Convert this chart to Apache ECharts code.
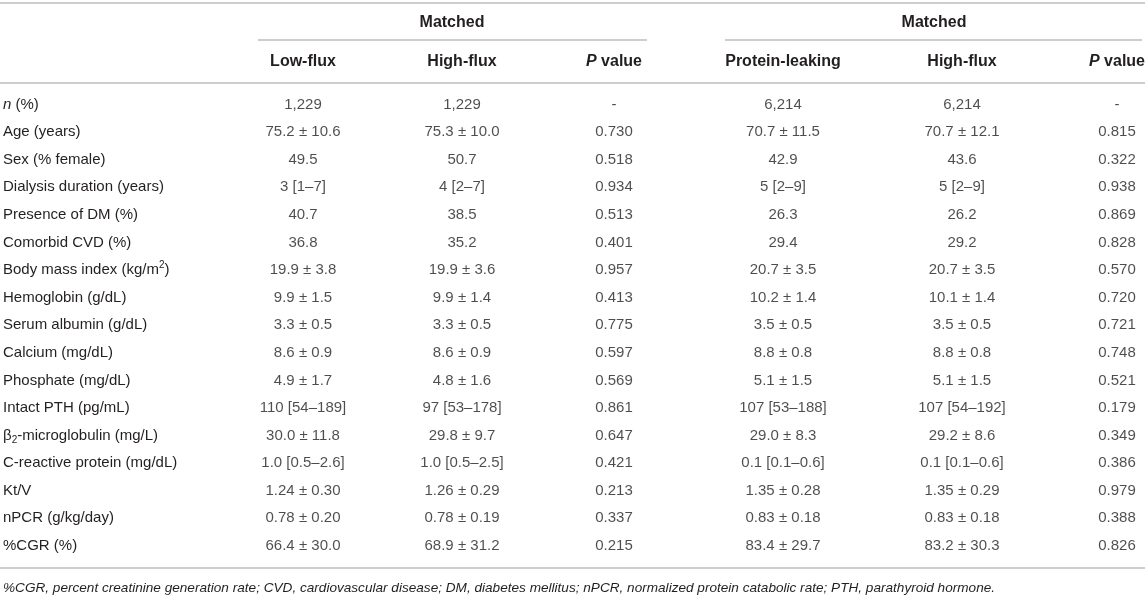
<!DOCTYPE html>
<html>
<head>
<meta charset="utf-8">
<script src="https://cdn.jsdelivr.net/npm/echarts@6/dist/echarts.min.js"></script>
<style>
  html, body { margin: 0; padding: 0; background: #fff; }
  #main { width: 1145px; height: 596px; }
</style>
</head>
<body>
<div id="main"></div>
<script>
// table content
const rowLabels = [
  'n (%)', 'Age (years)', 'Sex (% female)', 'Dialysis duration (years)',
  'Presence of DM (%)', 'Comorbid CVD (%)', 'Body mass index (kg/m²)',
  'Hemoglobin (g/dL)', 'Serum albumin (g/dL)', 'Calcium (mg/dL)',
  'Phosphate (mg/dL)', 'Intact PTH (pg/mL)', 'β₂-microglobulin (mg/L)',
  'C-reactive protein (mg/dL)', 'Kt/V', 'nPCR (g/kg/day)', '%CGR (%)',
];
const groupTitles = ['Matched', 'Matched'];
const columnTitles = ['Low-flux', 'High-flux', 'P value', 'Protein-leaking', 'High-flux', 'P value'];
const lowFlux = ['1,229', '75.2 ± 10.6', '49.5', '3 [1–7]', '40.7', '36.8', '19.9 ± 3.8', '9.9 ± 1.5',
  '3.3 ± 0.5', '8.6 ± 0.9', '4.9 ± 1.7', '110 [54–189]', '30.0 ± 11.8', '1.0 [0.5–2.6]',
  '1.24 ± 0.30', '0.78 ± 0.20', '66.4 ± 30.0'];
const highFlux1 = ['1,229', '75.3 ± 10.0', '50.7', '4 [2–7]', '38.5', '35.2', '19.9 ± 3.6', '9.9 ± 1.4',
  '3.3 ± 0.5', '8.6 ± 0.9', '4.8 ± 1.6', '97 [53–178]', '29.8 ± 9.7', '1.0 [0.5–2.5]',
  '1.26 ± 0.29', '0.78 ± 0.19', '68.9 ± 31.2'];
const pValue1 = ['-', '0.730', '0.518', '0.934', '0.513', '0.401', '0.957', '0.413', '0.775',
  '0.597', '0.569', '0.861', '0.647', '0.421', '0.213', '0.337', '0.215'];
const proteinLeaking = ['6,214', '70.7 ± 11.5', '42.9', '5 [2–9]', '26.3', '29.4', '20.7 ± 3.5', '10.2 ± 1.4',
  '3.5 ± 0.5', '8.8 ± 0.8', '5.1 ± 1.5', '107 [53–188]', '29.0 ± 8.3', '0.1 [0.1–0.6]',
  '1.35 ± 0.28', '0.83 ± 0.18', '83.4 ± 29.7'];
const highFlux2 = ['6,214', '70.7 ± 12.1', '43.6', '5 [2–9]', '26.2', '29.2', '20.7 ± 3.5', '10.1 ± 1.4',
  '3.5 ± 0.5', '8.8 ± 0.8', '5.1 ± 1.5', '107 [54–192]', '29.2 ± 8.6', '0.1 [0.1–0.6]',
  '1.35 ± 0.29', '0.83 ± 0.18', '83.2 ± 30.3'];
const pValue2 = ['-', '0.815', '0.322', '0.938', '0.869', '0.828', '0.570', '0.720', '0.721',
  '0.748', '0.521', '0.179', '0.349', '0.386', '0.979', '0.388', '0.826'];
const footnote = '%CGR, percent creatinine generation rate; CVD, cardiovascular disease; DM, diabetes mellitus; '
  + 'nPCR, normalized protein catabolic rate; PTH, parathyroid hormone.';

// layout
const W = 1145;
const colX = [303, 462, 614, 783, 962, 1117];
const columns = [lowFlux, highFlux1, pValue1, proteinLeaking, highFlux2, pValue2];
const FONT = '"Liberation Sans", Arial, Helvetica, sans-serif';
const textColor = '#231f20';
const ruleColor = '#bcbcbc';

const myChart = echarts.init(document.getElementById('main'));

const italicP = (t) => (t.indexOf('P ') === 0 ? '{i|P}' + t.slice(1) : t);
// italic n, raised ² and lowered ₂ via rich text
const richLabel = (v) => {
  let s = v.indexOf('n (') === 0 ? '{i|n}' + v.slice(1) : v;
  s = s.replace('²', '{sup|2}').replace('₂', '{sub|2}');
  return s;
};

// one scatter series per table column, x from colX, y = row category
const series = columns.map((col, j) => ({
  type: 'scatter',
  silent: true,
  symbolSize: 1,
  itemStyle: { color: 'rgba(0,0,0,0)' },
  label: {
    show: true,
    position: 'inside',
    color: textColor,
    fontFamily: FONT,
    fontSize: 15,
    formatter: (p) => p.value[2],
  },
  data: col.map((v, i) => [colX[j], i, v]),
}));

const rule = (x1, x2, y) => ({
  type: 'line',
  shape: { x1, y1: y, x2, y2: y },
  style: { stroke: ruleColor, lineWidth: 1.5 },
  silent: true,
});
const headText = (text, x, y) => ({
  type: 'text',
  x,
  y,
  silent: true,
  style: {
    text: italicP(text),
    fill: textColor,
    font: 'bold 16px ' + FONT,
    align: 'center',
    verticalAlign: 'middle',
    rich: { i: { fontStyle: 'italic', fontWeight: 'bold', fontSize: 16, fontFamily: FONT, fill: textColor } },
  },
});

myChart.setOption({
  animation: false,
  grid: { left: 0, right: 0, top: 90.7, bottom: 36.3 },
  xAxis: { type: 'value', min: 0, max: W, show: false },
  yAxis: {
    type: 'category',
    inverse: true,
    data: rowLabels,
    axisLine: { show: false },
    axisTick: { show: false },
    splitLine: { show: false },
    axisLabel: {
      align: 'left',
      margin: -3,
      color: textColor,
      fontFamily: FONT,
      fontSize: 15,
      lineHeight: 20,
      formatter: richLabel,
      rich: {
        i: { fontStyle: 'italic', fontSize: 15, lineHeight: 20, fontFamily: FONT, color: textColor },
        sup: { fontSize: 10, lineHeight: 12, verticalAlign: 'top', fontFamily: FONT, color: textColor },
        sub: { fontSize: 10, lineHeight: 12, verticalAlign: 'bottom', fontFamily: FONT, color: textColor },
      },
    },
  },
  graphic: [
    rule(0, W, 3),
    rule(258, 647, 40),
    rule(725, 1142, 40),
    rule(0, W, 83),
    rule(0, W, 568),
    headText(groupTitles[0], 452, 23),
    headText(groupTitles[1], 934, 23),
    ...columnTitles.map((t, j) => headText(t, colX[j], 62)),
    {
      type: 'text',
      x: 3,
      y: 588,
      silent: true,
      style: {
        text: footnote,
        fill: textColor,
        font: 'italic 13.6px ' + FONT,
        verticalAlign: 'middle',
      },
    },
  ],
  series,
});
</script>
</body>
</html>
